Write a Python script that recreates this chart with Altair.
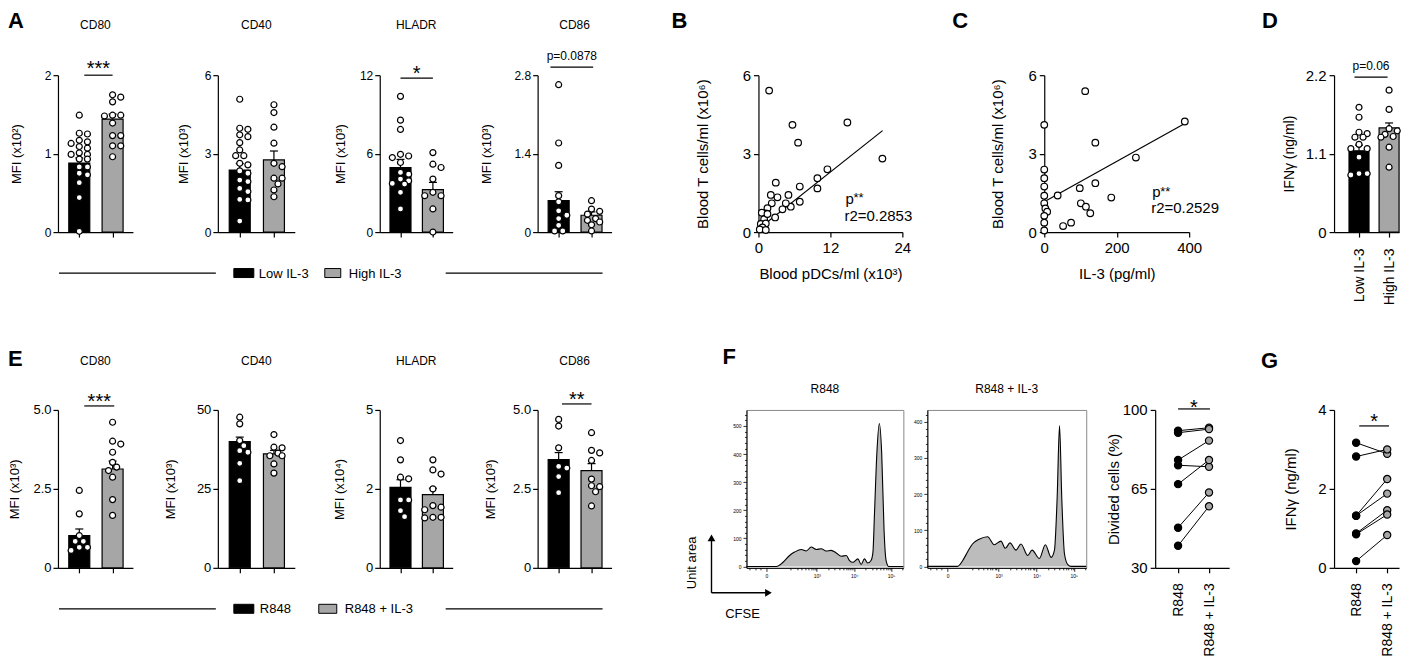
import altair as alt
import pandas as pd
import numpy as np

FONT = "Liberation Sans"
GREY = "#a6a6a6"

# ======================= DATA =======================
# Panel A: MFI, Low IL-3 vs High IL-3
a_cd80_low = [1.49, 1.26, 1.25, 1.17, 1.15, 1.13, 1.09, 1.07, 1.01, 0.99, 0.99, 0.93, 0.93, 0.83, 0.83, 0.75, 0.73, 0.63, 0.44, 0.01]
a_cd80_high = [1.75, 1.72, 1.66, 1.49, 1.49, 1.48, 1.39, 1.23, 1.23, 1.10, 1.10, 0.96]
a_cd80_mean = [0.88, 1.44]
a_cd80_sem = [0.065, 0.065]

a_cd40_low = [5.08, 3.97, 3.93, 3.72, 3.65, 3.42, 3.14, 2.92, 2.92, 2.63, 2.57, 2.34, 2.25, 1.99, 1.93, 1.67, 1.55, 1.25, 1.23, 0.42]
a_cd40_high = [4.87, 4.57, 4.01, 3.40, 2.63, 2.50, 2.06, 2.06, 1.84, 1.61, 1.35]
a_cd40_mean = [2.37, 2.76]
a_cd40_sem = [0.25, 0.34]

a_hladr_low = [10.38, 8.56, 7.85, 5.95, 5.82, 5.70, 5.32, 4.56, 4.43, 4.05, 3.92, 3.72, 3.67, 3.04, 1.77]
a_hladr_high = [6.08, 5.19, 4.94, 4.05, 3.04, 2.78, 2.78, 1.77, 0.0]
a_hladr_mean = [4.94, 3.24]
a_hladr_sem = [0.62, 0.56]

a_cd86_low = [2.63, 1.59, 1.19, 0.65, 0.54, 0.38, 0.30, 0.24, 0.12, 0.02, 0.02]
a_cd86_high = [0.56, 0.41, 0.37, 0.32, 0.24, 0.21, 0.18, 0.13, 0.02]
a_cd86_mean = [0.56, 0.30]
a_cd86_sem = [0.16, 0.06]

# Panel B: blood T cells vs blood pDCs
b_x = [1.78, 5.67, 6.61, 14.83, 20.67, 11.5, 9.83, 9.83, 6.89, 6.89, 2.89, 5.0, 5.39, 4.56, 4.0, 3.17, 2.06, 2.22,
       1.5, 1.22, 0.56, 2.78, 0.94, 0.39, 1.22, 0.67, 0.22, 1.22, 1.5]
b_y = [5.41, 4.10, 3.42, 4.19, 2.81, 2.40, 2.06, 1.67, 1.74, 1.16, 1.89, 1.42, 0.97, 1.10, 0.87, 1.33, 1.42, 1.10,
       0.91, 0.71, 0.74, 0.56, 0.49, 0.31, 0.33, 0.18, 0.10, 0.08, 0.69]
b_fit_x = [0.3, 20.7]
b_fit_y = [0.17, 3.88]

# Panel C: blood T cells vs IL-3
c_x = [0, 0, 0, 0, 0, 0, 3, 8, 0, 0, 0, 37, 52, 74, 98, 101, 115, 127, 113, 141, 141, 185, 253, 388]
c_y = [4.10, 2.39, 2.06, 1.74, 1.39, 1.10, 0.90, 0.78, 0.62, 0.36, 0.06, 1.40, 0.23, 0.36, 1.68, 1.10, 0.97, 0.72,
       5.39, 3.42, 1.87, 1.32, 2.85, 4.23]
c_fit_x = [0, 388]
c_fit_y = [1.16, 4.15]

# Panel D: IFN-gamma, Low vs High IL-3
d_low = [1.75, 1.61, 1.40, 1.38, 1.33, 1.33, 1.23, 1.17, 1.17, 1.05, 0.82, 0.82, 0.80]
d_high = [1.99, 1.72, 1.45, 1.42, 1.37, 1.34, 1.33, 1.19, 0.91]
d_mean = [1.14, 1.46]
d_sem = [0.08, 0.07]

# Panel E: MFI, R848 vs R848 + IL-3
e_cd80_r = [2.45, 1.71, 1.02, 0.84, 0.84, 0.65, 0.65, 0.55]
e_cd80_ri = [4.61, 4.01, 3.92, 3.66, 3.34, 3.19, 3.08, 2.87, 2.16, 1.66]
e_cd80_mean = [1.02, 3.13]
e_cd80_sem = [0.21, 0.25]

e_cd40_r = [47.7, 45.6, 40.3, 38.7, 37.1, 36.6, 33.1, 27.6]
e_cd40_ri = [42.2, 38.2, 38.0, 36.3, 35.5, 35.5, 32.9, 30.0]
e_cd40_mean = [40.0, 36.1]
e_cd40_sem = [1.4, 1.1]

e_hladr_r = [4.03, 3.42, 2.87, 2.82, 2.15, 2.15, 1.81, 1.62]
e_hladr_ri = [3.42, 3.10, 2.97, 2.50, 1.97, 1.92, 1.84, 1.60, 1.60, 1.58]
e_hladr_mean = [2.55, 2.32]
e_hladr_sem = [0.24, 0.20]

e_cd86_r = [4.70, 4.49, 3.80, 3.21, 3.16, 2.89, 2.38]
e_cd86_ri = [4.28, 3.72, 3.64, 3.40, 2.81, 2.60, 2.57, 2.41, 1.96]
e_cd86_mean = [3.43, 3.08]
e_cd86_sem = [0.22, 0.22]

# Panel F: CFSE histograms (channel position 0-100 across the plot, count)
f1_x = [0, 17, 19.1, 23.3, 27.5, 30.7, 35.0, 38.1, 41.3, 44.5, 47.7, 50.8, 54.0, 57.2, 60.4, 63.6, 65.7, 67.8,
        71.0, 73.1, 75.2, 77.3, 79.4, 80.6, 81.6, 83.1, 84.7, 86.2, 87.7, 89.0, 90.7, 100]
f1_y = [0, 0, 0, 15, 39, 51, 60, 55, 69, 60, 63, 55, 57, 48, 36, 39, 21, 15,
        27, 7, 27, 12, 21, 50, 188, 402, 509, 402, 129, 21, 0, 0]
f2_x = [0, 18.9, 22.1, 25.3, 28.4, 32.6, 37.9, 42.1, 46.3, 49.1, 52.0, 55.8, 58.9, 63.2, 65.9, 70.5, 74.3, 77.9,
        80.0, 81.7, 83.2, 84.6, 86.3, 88.4, 90.5, 100]
f2_y = [0, 0, 15, 40, 62, 75, 82, 60, 70, 50, 65, 45, 62, 30, 45, 22, 60, 25,
        45, 190, 390, 190, 35, 5, 0, 0]
f_major = [12.7, 44.8, 68.7, 92.2]
f_major_labels = ["0", "10³", "10⁴", "10⁵"]

# Divided cells (%) paired
div_r = [90.8, 89.9, 77.8, 75.5, 67.1, 47.8, 39.8]
div_ri = [92.1, 91.5, 86.4, 74.8, 77.8, 63.4, 57.3]

# Panel G: IFN-gamma paired
g_r = [3.17, 2.82, 1.32, 1.32, 0.87, 0.85, 0.17]
g_ri = [2.89, 3.00, 2.25, 1.88, 1.46, 1.35, 0.83]


# ======================= HELPERS =======================
def one():
    return alt.Data(values=[{"k": 1}])


def ptext(text, x, y, size=12, align="center", baseline="middle", weight="normal", angle=0):
    return alt.Chart(one()).mark_text(
        text=text, align=align, baseline=baseline, fontSize=size, fontWeight=weight,
        font=FONT, angle=angle, color="black"
    ).encode(x=alt.value(x), y=alt.value(y))


def letter_text(ch, x, y):
    return ptext(ch, x, y, size=22, align="left", baseline="top", weight="bold")


def phrule(x1, x2, y, width=1.2):
    return alt.Chart(one()).mark_rule(color="black", strokeWidth=width).encode(
        x=alt.value(x1), x2=alt.value(x2), y=alt.value(y))


def pvrule(x, y1, y2, width=1.2):
    return alt.Chart(one()).mark_rule(color="black", strokeWidth=width).encode(
        x=alt.value(x), y=alt.value(y1), y2=alt.value(y2))


def prect(x1, x2, y1, y2, fill):
    return alt.Chart(one()).mark_rect(fill=fill, stroke="black", strokeWidth=1).encode(
        x=alt.value(x1), x2=alt.value(x2), y=alt.value(y1), y2=alt.value(y2))


def ppoint(x, y, shape, size, opacity=1):
    return alt.Chart(one()).mark_point(shape=shape, filled=True, color="black", size=size,
                                       opacity=opacity).encode(x=alt.value(x), y=alt.value(y))


def spacer(w, h):
    return alt.Chart(one()).mark_point(opacity=0).encode(
        x=alt.value(0), y=alt.value(0)).properties(width=w, height=h)


def legend_layers(items, yc):
    layers = [phrule(1, 158, yc, 1.2), phrule(388, 545, yc, 1.2)]
    for x1, x2, fill, label, tx in items:
        layers.append(prect(x1, x2, yc - 4.5, yc + 4.5, fill))
        layers.append(ptext(label, tx, yc + 0.5, size=13, align="left"))
    return layers


def swarm(vals, ydom, h, ppu, dia=6.8, max_px=12.0):
    span = ydom[1] - ydom[0]
    ys = [(v - ydom[0]) / span * h for v in vals]
    step = dia * 0.6
    cands = [0.0]
    k = 1
    while k * step <= max_px + 1e-9:
        cands += [k * step, -k * step]
        k += 1
    order = sorted(range(len(vals)), key=lambda i: -ys[i])
    placed = []
    offs = [0.0] * len(vals)
    for i in order:
        chosen, best, bestd = None, 0.0, -1
        for c in cands:
            d = min((np.hypot(c - px, ys[i] - py) for px, py in placed), default=1e9)
            if d >= dia * 0.9:
                chosen = c
                break
            if d > bestd:
                bestd, best = d, c
        if chosen is None:
            chosen = best
        offs[i] = chosen
        placed.append((chosen, ys[i]))
    return [o / ppu for o in offs]


def sig_layers(text, a, b, line_y, center_y, size, xs, xa):
    df = pd.DataFrame({"a": [a], "b": [b], "m": [(a + b) / 2]})
    rule = alt.Chart(df).mark_rule(color="black", strokeWidth=1.2).encode(
        x=alt.X("a:Q", scale=xs, axis=xa), x2="b:Q", y=alt.value(line_y))
    is_star = set(text) == {"*"}
    ty = center_y + (0.25 * size if is_star else 0)
    t = alt.Chart(df).mark_text(text=text, fontSize=size, font=FONT, baseline="middle",
                                align="center", color="black").encode(
        x=alt.X("m:Q", scale=xs, axis=xa), y=alt.value(ty))
    return [rule, t]


def yaxis_def(ticks, title, title_x, h, lab, tsize, expr=None, pad=2):
    return alt.Axis(values=ticks, title=title, titleX=title_x, titleY=h / 2, titleAngle=270,
                    titleAlign="center", titleBaseline="middle", titleFontSize=tsize,
                    labelFontSize=lab, tickSize=5, labelPadding=pad,
                    labelExpr=expr if expr else "'' + datum.value")


def xaxis_cat(xlabels, size, pad):
    if xlabels:
        return alt.Axis(values=[0, 1], title=None, tickSize=5,
                        labelExpr=f"datum.value == 0 ? '{xlabels[0]}' : '{xlabels[1]}'",
                        labelAngle=270, labelAlign="right", labelBaseline="middle",
                        labelFontSize=size, labelPadding=pad)
    return alt.Axis(values=[0, 1], title=None, tickSize=5, labels=False)


def bar_panel(title, groups, means, sems, ydom, yticks, ytitle, w, h, title_x,
              ylab=12, ytsize=13, xdom=(-0.64, 1.61), sig=None, letter=None, title_y=-50,
              ylabel_expr=None, xlabels=None, xlab_size=14, xlab_pad=11, bar_px=10.5, ypad=2, extra=()):
    ppu = w / (xdom[1] - xdom[0])
    bhw = bar_px / ppu
    chw = 4 / ppu
    xs = alt.Scale(domain=list(xdom), nice=False, zero=False)
    ys = alt.Scale(domain=list(ydom), nice=False, zero=False)
    xa = xaxis_cat(xlabels, xlab_size, xlab_pad)
    ya = yaxis_def(yticks, ytitle, title_x, h, ylab, ytsize, ylabel_expr, ypad)
    rows = []
    for g, vals in enumerate(groups):
        offs = swarm(vals, ydom, h, ppu)
        for v, o in zip(vals, offs):
            rows.append({"g": g, "v": v, "x": g + o})
    pts = pd.DataFrame(rows)
    bars = pd.DataFrame({
        "g": [0, 1], "m": means, "top": [m + s for m, s in zip(means, sems)],
        "x1": [g - bhw for g in (0, 1)], "x2": [g + bhw for g in (0, 1)],
        "c1": [g - chw for g in (0, 1)], "c2": [g + chw for g in (0, 1)],
        "zero": [ydom[0], ydom[0]], "fill": ["black", GREY]})
    layers = [
        alt.Chart(bars).mark_rect(stroke="black", strokeWidth=1.2).encode(
            x=alt.X("x1:Q", scale=xs, axis=xa), x2="x2:Q",
            y=alt.Y("m:Q", scale=ys, axis=ya), y2="zero:Q", fill=alt.Fill("fill:N", scale=None)),
        alt.Chart(bars).mark_rule(color="black", strokeWidth=1.2).encode(
            x=alt.X("g:Q", scale=xs, axis=xa), y=alt.Y("m:Q", scale=ys, axis=ya), y2="top:Q"),
        alt.Chart(bars).mark_rule(color="black", strokeWidth=1.2).encode(
            x=alt.X("c1:Q", scale=xs, axis=xa), x2="c2:Q", y=alt.Y("top:Q", scale=ys, axis=ya)),
        alt.Chart(pts).mark_circle(size=36, fill="white", stroke="black", strokeWidth=1.2, opacity=1).encode(
            x=alt.X("x:Q", scale=xs, axis=xa), y=alt.Y("v:Q", scale=ys, axis=ya)),
    ]
    if sig:
        layers += sig_layers(*sig, xs=xs, xa=xa)
    if title:
        layers.append(ptext(title, w / 2, title_y, size=12))
    if letter:
        layers.append(letter_text(*letter))
    layers += list(extra)
    return alt.layer(*layers).properties(width=w, height=h)


def scatter_panel(xv, yv, lx, ly, xdom, xticks, ydom, yticks, xtitle, ytitle, w, h, title_x, ann, letter):
    xs = alt.Scale(domain=list(xdom), nice=False, zero=False)
    ys = alt.Scale(domain=list(ydom), nice=False, zero=False)
    df = pd.DataFrame({"x": xv, "y": yv})
    ld = pd.DataFrame({"x": lx, "y": ly})
    xa = alt.Axis(values=xticks, title=xtitle, titleX=w / 2, titleY=41, titleAlign="center",
                  titleBaseline="middle", titleFontSize=15, labelFontSize=15, tickSize=5, labelPadding=3)
    ya = yaxis_def(yticks, ytitle, title_x, h, 15, 15, pad=3)
    layers = [
        alt.Chart(ld).mark_line(color="black", strokeWidth=1.2).encode(
            x=alt.X("x:Q", scale=xs, axis=xa), y=alt.Y("y:Q", scale=ys, axis=ya)),
        alt.Chart(df).mark_circle(size=44, fill="white", stroke="black", strokeWidth=1.2, opacity=1).encode(
            x=alt.X("x:Q", scale=xs, axis=xa), y=alt.Y("y:Q", scale=ys, axis=ya)),
    ]
    px, p_y, st_y, r_text, r_y = ann
    layers.append(ptext("p", px + 1, p_y, size=15, align="left", baseline="alphabetic"))
    layers.append(ptext("**", px + 9, st_y + 3, size=13, align="left"))
    layers.append(ptext(r_text, px, r_y, size=15, align="left", baseline="alphabetic"))
    layers.append(letter_text(*letter))
    return alt.layer(*layers).properties(width=w, height=h)


def paired_panel(left, right, ydom, yticks, ytitle, w, h, title_x, xdom, sig, letter=None,
                 xlabels=("R848", "R848 + IL-3")):
    xs = alt.Scale(domain=list(xdom), nice=False, zero=False)
    ys = alt.Scale(domain=list(ydom), nice=False, zero=False)
    xa = xaxis_cat(xlabels, 14, 10)
    ya = yaxis_def(yticks, ytitle, title_x, h, 15, 15, pad=3)
    rows = []
    for i, (l, r) in enumerate(zip(left, right)):
        rows.append({"p": i, "g": 0, "v": l, "c": "black"})
        rows.append({"p": i, "g": 1, "v": r, "c": GREY})
    df = pd.DataFrame(rows)
    layers = [
        alt.Chart(df).mark_line(color="black", strokeWidth=1).encode(
            x=alt.X("g:Q", scale=xs, axis=xa), y=alt.Y("v:Q", scale=ys, axis=ya), detail="p:N"),
        alt.Chart(df).mark_circle(size=52, stroke="black", strokeWidth=1.2, opacity=1).encode(
            x=alt.X("g:Q", scale=xs, axis=xa), y=alt.Y("v:Q", scale=ys, axis=ya),
            fill=alt.Fill("c:N", scale=None)),
    ]
    layers += sig_layers(*sig, xs=xs, xa=xa)
    if letter:
        layers.append(letter_text(*letter))
    return alt.layer(*layers).properties(width=w, height=h)


def hist_ticks():
    vals = [2.0, 5.5, 9.0] + list(f_major)
    dec = f_major[2] - f_major[1]
    for base in (f_major[1] - dec, f_major[1], f_major[2], f_major[3]):
        for m in range(2, 10):
            p = round(base + np.log10(m) * dec, 2)
            if f_major[0] + 3 < p < 99.5:
                vals.append(p)
    return sorted(set(vals))


def hist_panel(xv, yv, ydom, ymax_tick, w, h, title, extra=()):
    xs = alt.Scale(domain=[0, 100], nice=False, zero=False)
    ys = alt.Scale(domain=list(ydom), nice=False, zero=False)
    maj = "[" + ",".join(str(v) for v in f_major) + "]"
    lab = " : ".join(f"datum.value == {v} ? '{t}'" for v, t in zip(f_major, f_major_labels)) + " : ''"
    xaxis = alt.Axis(values=hist_ticks(), labelExpr=lab, title=None, labelFontSize=5, labelPadding=2,
                     tickWidth=0.8, domainWidth=1,
                     tickSize={"condition": {"test": f"indexof({maj}, datum.value) >= 0", "value": 3.5},
                               "value": 2})
    yaxis = alt.Axis(values=list(range(0, ymax_tick + 1, 20)), title=None,
                     labelExpr="datum.value % 100 == 0 ? datum.label : ''",
                     labelFontSize=5, labelPadding=2, tickWidth=0.8, domainWidth=1,
                     tickSize={"condition": {"test": "datum.value % 100 == 0", "value": 3.5}, "value": 2})
    df = pd.DataFrame({"x": xv, "y": yv})
    layers = [
        alt.Chart(df).mark_area(color="#a0a0a0", interpolate="monotone",
                                line=alt.OverlayMarkDef(color="black", strokeWidth=1.1)).encode(
            x=alt.X("x:Q", scale=xs, axis=xaxis), y=alt.Y("y:Q", scale=ys, axis=yaxis)),
        ptext(title, w / 2, -21, size=12),
    ]
    layers += list(extra)
    return alt.layer(*layers).properties(width=w, height=h,
                                         view=alt.ViewBackground(stroke="#8a8a8a", strokeWidth=1))


# ======================= PANELS =======================
HA, HB = 157, 158
WA = [75, 77, 73, 74]
TOPL = -64  # top-row panel letters (top baseline), relative to plot top

legA = legend_layers([(176, 196, "black", "Low IL-3", 201), (267, 283, GREY, "High IL-3", 291)], 198)
legA.append(ppoint(0, -66.5, "circle", 1, opacity=0))  # invisible anchor for the top margin
legE = legend_layers([(176, 196, "black", "R848", 202), (261, 279, GREY, "R848 + IL-3", 287)], 199)

a1 = bar_panel("CD80", [a_cd80_low, a_cd80_high], a_cd80_mean, a_cd80_sem, [0, 2], [0, 1, 2],
               "MFI (x10²)", WA[0], HA, -41, sig=("***", 0.15, 1.0, 0, -11, 20), letter=("A", -50, TOPL),
               extra=legA)
a2 = bar_panel("CD40", [a_cd40_low, a_cd40_high], a_cd40_mean, a_cd40_sem, [0, 6], [0, 3, 6],
               "MFI (x10³)", WA[1], HA, -34)
a3 = bar_panel("HLADR", [a_hladr_low, a_hladr_high], a_hladr_mean, a_hladr_sem, [0, 12], [0, 6, 12],
               "MFI (x10³)", WA[2], HA, -39, sig=("*", 0.0, 1.0, 3, -6.5, 20))
a4 = bar_panel("CD86", [a_cd86_low, a_cd86_high], a_cd86_mean, a_cd86_sem, [0, 2.8], [0, 1.4, 2.8],
               "MFI (x10³)", WA[3], HA, -51, sig=("p=0.0878", -0.25, 1.05, -8, -19, 12))

b = scatter_panel(b_x, b_y, b_fit_x, b_fit_y, [0, 24], [0, 12, 24], [0, 6], [0, 3, 6],
                  "Blood pDCs/ml (x10³)", "Blood T cells/ml (x10⁶)", 144, HA, -56,
                  (86, 129, 120, "r2=0.2853", 146), ("B", -87, TOPL))
c = scatter_panel(c_x, c_y, c_fit_x, c_fit_y, [0, 400], [0, 200, 400], [0, 6], [0, 3, 6],
                  "IL-3 (pg/ml)", "Blood T cells/ml (x10⁶)", 145, HA, -47,
                  (107, 122, 114, "r2=0.2529", 138), ("C", -92, TOPL))
d = bar_panel(None, [d_low, d_high], d_mean, d_sem, [0, 2.2], [0, 1.1, 2.2], "IFNγ (ng/ml)", 65, HA, -45,
              ylab=15, ytsize=14, xdom=(-0.83, 1.33), sig=("p=0.06", -0.15, 0.95, 2, -9, 12),
              letter=("D", -72, TOPL), xlabels=("Low IL-3", "High IL-3"), xlab_size=14, xlab_pad=11,
              bar_px=10, ypad=3)

fmt1 = "datum.value == 0 ? '0' : format(datum.value, '.1f')"
e1 = bar_panel("CD80", [e_cd80_r, e_cd80_ri], e_cd80_mean, e_cd80_sem, [0, 5], [0, 2.5, 5],
               "MFI (x10³)", WA[0], HB, -43, ylab=13, sig=("***", 0.15, 1.05, -4, -13, 20),
               letter=("E", -50, -61), title_y=-49, ylabel_expr=fmt1, extra=legE)
e2 = bar_panel("CD40", [e_cd40_r, e_cd40_ri], e_cd40_mean, e_cd40_sem, [0, 50], [0, 25, 50],
               "MFI (x10³)", WA[1], HB, -47, ylab=13, title_y=-49)
e3 = bar_panel("HLADR", [e_hladr_r, e_hladr_ri], e_hladr_mean, e_hladr_sem, [0, 5], [0, 2.5, 5],
               "MFI (x10⁴)", WA[2], HB, -40, ylab=13, title_y=-49,
               ylabel_expr="datum.value == 2.5 ? '2' : '' + datum.value")
e4 = bar_panel("CD86", [e_cd86_r, e_cd86_ri], e_cd86_mean, e_cd86_sem, [0, 5], [0, 2.5, 5],
               "MFI (x10³)", WA[3], HB, -47, ylab=13, sig=("**", 0.1, 1.0, -6, -15, 20),
               title_y=-49, ylabel_expr=fmt1)

arrows = [
    pvrule(-35, 183, 130, 1.4),
    ppoint(-35, 128, "triangle-up", 60),
    phrule(-35, 20, 183, 1.4),
    ppoint(22, 183, "triangle-right", 60),
    ptext("Unit area", -55, 153, size=13, angle=270),
    ptext("CFSE", -4, 204, size=13),
    letter_text("F", -24, -63),
]
f1 = hist_panel(f1_x, f1_y, [-5, 557], 540, 157, HB, "R848", arrows)
f2 = hist_panel(f2_x, f2_y, [-4, 433], 420, 159, HB, "R848 + IL-3")

dv = paired_panel(div_r, div_ri, [30, 100], [30, 65, 100], "Divided cells (%)", 74, HB, -42,
                  (-0.74, 1.65), ("*", 0.0, 1.03, -1, -7, 20))
g = paired_panel(g_r, g_ri, [0, 4], [0, 2, 4], "IFNγ (ng/ml)", 65, HB, -44,
                 (-0.71, 1.38), ("*", 0.1, 1.06, 16, 7, 20), letter=("G", -73, -59))

row1 = alt.hconcat(a1, spacer(85, HA), a2, spacer(85, HA), a3, spacer(85, HA), a4, spacer(147, HA),
                   b, spacer(142, HA), c, spacer(145, HA), d, spacing=0, bounds="flush")
row2 = alt.hconcat(e1, spacer(85, HB), e2, spacer(85, HB), e3, spacer(85, HB), e4, spacer(135, HB),
                   f1, spacer(24, HB), f2, spacer(69, HB), dv, spacer(105, HB), g, spacing=0, bounds="flush")

chart = alt.vconcat(row1, row2, spacing=40, bounds="full").properties(
    padding=0, background="white"
).configure_view(stroke=None).configure_axis(
    domainColor="black", tickColor="black", labelColor="black", titleColor="black",
    labelFont=FONT, titleFont=FONT, titleFontWeight="normal", domainWidth=1.2, tickWidth=1.2,
    grid=False, labelFlush=False, labelOverlap=False
)

chart.save("out.html", embed_options={"renderer": "svg", "actions": False})
